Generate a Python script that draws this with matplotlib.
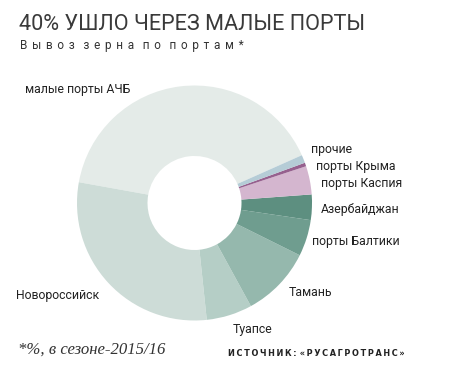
import matplotlib
matplotlib.use('Agg')
import matplotlib.pyplot as plt

# shares of grain export by port, %, season 2015/16
ports = ['малые порты АЧБ', 'Новороссийск', 'Туапсе', 'Тамань', 'порты Балтики',
         'Азербайджан', 'порты Каспия', 'порты Крыма', 'прочие']
shares = [40.5, 29.5, 6.3, 9.7, 5.0, 3.5, 3.9, 0.5, 1.1]
colors = ['#e4ebe8', '#cddcd7', '#b5cec6', '#95b8ad', '#6f9d8f',
          '#5d8f80', '#d4b6cf', '#96608e', '#b5ccd6']

title = '40% УШЛО ЧЕРЕЗ МАЛЫЕ ПОРТЫ'
subtitle = 'Вывоз зерна по портам*'
note = '*%, в сезоне-2015/16'
source = 'ИСТОЧНИК: «РУСАГРОТРАНС»'

W, H = 449, 382
sans = ['Roboto', 'DejaVu Sans']

fig = plt.figure(figsize=(W / 100, H / 100), dpi=100)
renderer = fig.canvas.get_renderer()


def px(x, y):
    return x / W, 1 - y / H


def spaced(s, gap='\u2009', word='   '):
    # fake letter spacing
    return word.join(gap.join(w) for w in s.split(' '))


def fit(t, width):
    # shrink/grow font so the text spans the given pixel width
    w = t.get_window_extent(renderer).width
    t.set_fontsize(t.get_fontsize() * width / w)
    return t


# donut
ax = fig.add_axes([77 / W, 1 - 320.5 / H, 235 / W, 235 / H])
ax.pie(shares, colors=colors, startangle=24, counterclock=True, radius=1,
       wedgeprops=dict(width=0.6, linewidth=0))
ax.set_xlim(-1, 1)
ax.set_ylim(-1, 1)
ax.set_aspect('equal')
ax.axis('off')

# slice labels: left x, centre y, width in pixels
label_pos = {
    'малые порты АЧБ': (25, 90, 108),
    'Новороссийск': (16, 296, 85),
    'Туапсе': (233, 329, 39),
    'Тамань': (289, 293, 41),
    'порты Балтики': (312, 241, 91),
    'Азербайджан': (321, 210, 79),
    'порты Каспия': (321, 183, 82),
    'порты Крыма': (316, 166, 81),
    'прочие': (311, 150, 41),
}
labels = []
ratio = []
for name in ports:
    x, y, w = label_pos[name]
    t = fig.text(*px(x, y), name, ha='left', va='center', fontsize=10,
                 family=sans, color='#222222')
    ratio.append(w / t.get_window_extent(renderer).width)
    labels.append(t)
size = 10 * sum(ratio) / len(ratio)
for t in labels:
    t.set_fontsize(size)

fit(fig.text(*px(19, 25), title, ha='left', va='center', fontsize=19,
             family=sans, color='#3a3a3a'), 346)
fit(fig.text(*px(20, 46), spaced(subtitle, '\u2009\u2009', '   '), ha='left',
             va='center', fontsize=9, family=sans, color='#333333'), 225)
fit(fig.text(*px(18, 350), note, ha='left', va='center', fontsize=11,
             family='Liberation Serif', style='italic', color='#333333'), 148)
fit(fig.text(*px(228, 353), spaced(source, '\u2009', '\u2009\u2009'), ha='left',
             va='center', fontsize=6, family='DejaVu Sans', weight='bold',
             color='#222222'), 177)

fig.savefig('out.png', dpi=100)
